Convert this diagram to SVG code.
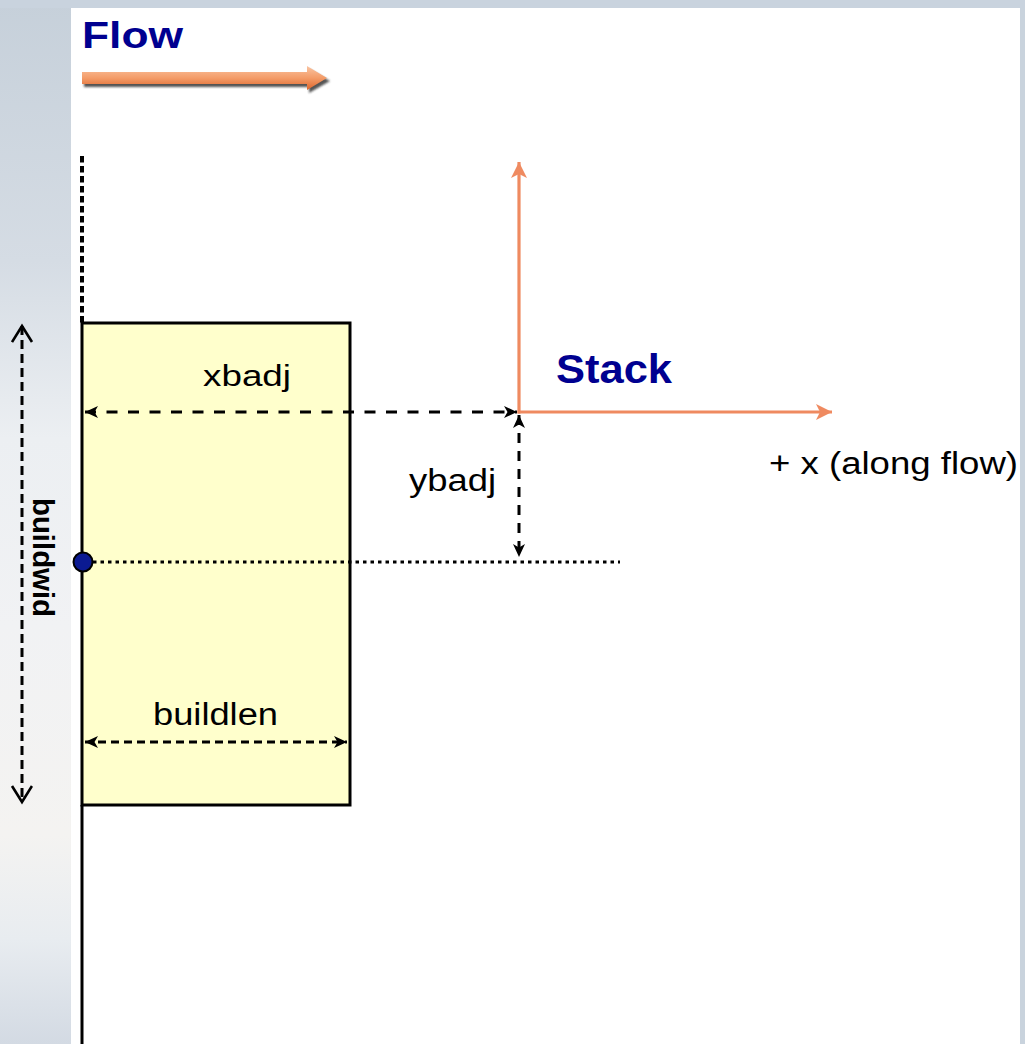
<svg xmlns="http://www.w3.org/2000/svg" width="1025" height="1044" viewBox="0 0 1025 1044">
  <defs>
    <style>
      .lbl { font-family: "Liberation Sans", Arial, sans-serif; fill: #000; }
      .ttl { font-family: "Liberation Sans", Arial, sans-serif; font-weight: bold; fill: #000090; }
      .dim { fill: none; stroke: #000; stroke-width: 3; }
      .axis { fill: none; stroke: #ef8a60; stroke-width: 3.2; }
    </style>
    <linearGradient id="sky" x1="0" y1="0" x2="0" y2="1">
      <stop offset="0" stop-color="#c6d0da"/>
      <stop offset="0.25" stop-color="#d5dce4"/>
      <stop offset="0.42" stop-color="#eceff2"/>
      <stop offset="0.6" stop-color="#f1f2f4"/>
      <stop offset="0.8" stop-color="#f4f3f1"/>
      <stop offset="0.9" stop-color="#e8ecf0"/>
      <stop offset="1" stop-color="#d3dae3"/>
    </linearGradient>
    <linearGradient id="flowFill" x1="0" y1="0" x2="0" y2="1">
      <stop offset="0" stop-color="#f9c4a2"/>
      <stop offset="0.5" stop-color="#f49c68"/>
      <stop offset="1" stop-color="#dd652c"/>
    </linearGradient>
    <filter id="soft" x="-5%" y="-50%" width="110%" height="200%">
      <feGaussianBlur stdDeviation="1.2"/>
    </filter>
    <!-- filled, notched arrowhead for dimension lines -->
    <marker id="dimHead" markerUnits="userSpaceOnUse" markerWidth="14" markerHeight="12" refX="13" refY="6" orient="auto-start-reverse">
      <path d="M0,0 L13,6 L0,12 L3.5,6 Z" fill="#000"/>
    </marker>
    <!-- open chevron head -->
    <marker id="chev" markerUnits="userSpaceOnUse" markerWidth="20" markerHeight="24" refX="17" refY="11" orient="auto-start-reverse">
      <path d="M1,1 L17,11 L1,21" fill="none" stroke="#000" stroke-width="2.6"/>
    </marker>
    <!-- orange axis arrowhead -->
    <marker id="axHead" markerUnits="userSpaceOnUse" markerWidth="18" markerHeight="18" refX="16" refY="9" orient="auto">
      <path d="M0,1 L16,9 L0,17 L4,9 Z" fill="#ef8a60"/>
    </marker>
  </defs>

  <!-- backdrop -->
  <rect x="0" y="0" width="1025" height="1044" fill="#c9d3dd"/>
  <rect x="0" y="0" width="71" height="1044" fill="url(#sky)"/>
  <rect x="0" y="0" width="1025" height="8" fill="#c9d3de"/>
  <rect x="71" y="8" width="949" height="1036" fill="#ffffff"/>

  <!-- flow direction -->
  <g id="flow">
    <text class="ttl" x="82" y="48" font-size="36" textLength="101" lengthAdjust="spacingAndGlyphs">Flow</text>
    <path d="M84,75 H309 V69 L330,81 L309,93 V87 H84 Z" fill="#2a2a2a" opacity="0.8" filter="url(#soft)"/>
    <path d="M82,72 H307 V66 L327,78 L307,90 V84 H82 Z" fill="url(#flowFill)"/>
  </g>

  <!-- building block -->
  <g id="building">
    <rect x="82" y="323" width="268" height="482" fill="#ffffcc" stroke="#000" stroke-width="3"/>
  </g>

  <!-- building centre point -->
  <g id="centre">
    <circle cx="83" cy="562" r="9.5" fill="#0b1a92" stroke="#000" stroke-width="2"/>
  </g>

  <!-- stack coordinate frame -->
  <g id="stack">
    <text class="ttl" x="556" y="383" font-size="41" textLength="116" lengthAdjust="spacingAndGlyphs">Stack</text>
    <text class="lbl" x="769" y="474" font-size="31" textLength="249" lengthAdjust="spacingAndGlyphs">+ x (along flow)</text>
  </g>

  <!-- dimension labels -->
  <g id="labels">
    <text class="lbl" x="203" y="386" font-size="30" textLength="88" lengthAdjust="spacingAndGlyphs">xbadj</text>
    <text class="lbl" x="409" y="491" font-size="31" textLength="87" lengthAdjust="spacingAndGlyphs">ybadj</text>
    <text class="lbl" x="153" y="725" font-size="31" textLength="125" lengthAdjust="spacingAndGlyphs">buildlen</text>
    <text class="lbl" font-weight="bold" font-size="30" textLength="119" lengthAdjust="spacingAndGlyphs" transform="translate(33,498) rotate(90)">buildwid</text>
  </g>

  <!-- connectors -->
  <g id="connectors">
    <!-- reference line through the building face -->
    <line x1="82" y1="156" x2="82" y2="323" stroke="#000" stroke-width="4" stroke-dasharray="6.5 3.5"/>
    <line x1="82" y1="805" x2="82" y2="1044" stroke="#000" stroke-width="3"/>
    <line x1="93" y1="562" x2="620" y2="562" stroke="#000" stroke-width="3" stroke-dasharray="3.5 4"/>

    <!-- stack axes -->
    <line class="axis" x1="519" y1="413.5" x2="519" y2="162" marker-end="url(#axHead)"/>
    <line class="axis" x1="517.5" y1="412" x2="832" y2="412" marker-end="url(#axHead)"/>

    <!-- dimensions -->
    <line class="dim" x1="85" y1="412" x2="517" y2="412" stroke-dasharray="11 10.5" marker-start="url(#dimHead)" marker-end="url(#dimHead)"/>
    <line class="dim" x1="519" y1="415" x2="519" y2="557" stroke-dasharray="10 8" marker-start="url(#dimHead)" marker-end="url(#dimHead)"/>
    <line class="dim" x1="85" y1="742" x2="347" y2="742" stroke-dasharray="8 5" marker-start="url(#dimHead)" marker-end="url(#dimHead)"/>
    <line class="dim" x1="22" y1="326" x2="22" y2="802" stroke-width="2.6" stroke-dasharray="9 5" marker-start="url(#chev)" marker-end="url(#chev)"/>
  </g>
</svg>
